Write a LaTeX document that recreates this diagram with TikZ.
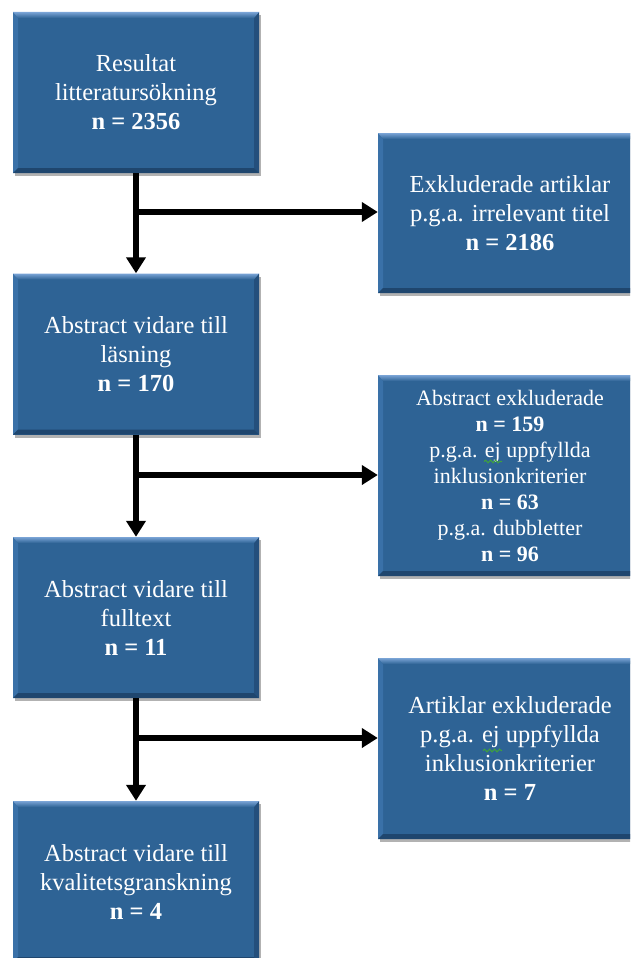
\documentclass[tikz,border=0pt]{standalone}
\usepackage{fontspec}
\setmainfont{Liberation Serif}
\usetikzlibrary{arrows.meta,shadows,decorations.pathmorphing}
\definecolor{boxblue}{HTML}{2E6395}
\definecolor{bevtop}{HTML}{7AA4D6}
\definecolor{bevleft}{HTML}{3A71A8}
\definecolor{bevright}{HTML}{244F7C}
\definecolor{bevbot}{HTML}{1F466E}
\definecolor{squig}{HTML}{3FA03F}
\tikzset{
  bevelbox/.style={
    fill=boxblue, text=white, align=center, inner sep=0pt,
    minimum width=246pt, minimum height=161pt,
    font=\fontsize{24.5}{29}\selectfont,
    drop shadow={shadow xshift=1.5pt, shadow yshift=-3pt, opacity=0.3, fill=black},
    path picture={
      \coordinate (pnw) at (path picture bounding box.north west);
      \coordinate (pne) at (path picture bounding box.north east);
      \coordinate (psw) at (path picture bounding box.south west);
      \coordinate (pse) at (path picture bounding box.south east);
      \fill[bevleft] (pnw) -- ([shift={(5pt,-6pt)}]pnw) -- ([shift={(5pt,5pt)}]psw) -- (psw) -- cycle;
      \fill[bevright] (pne) -- (pse) -- ([shift={(-5pt,5pt)}]pse) -- ([shift={(-5pt,-6pt)}]pne) -- cycle;
      \fill[bevbot] (psw) -- (pse) -- ([shift={(-5pt,5pt)}]pse) -- ([shift={(5pt,5pt)}]psw) -- cycle;
      \shade[top color=bevtop, bottom color=boxblue] (pnw) -- (pne) -- ([shift={(-5pt,-6pt)}]pne) -- ([shift={(5pt,-6pt)}]pnw) -- cycle;
    }},
  rightbox/.style={bevelbox, minimum width=264pt},
  smalltext/.style={font=\fontsize{22}{26}\selectfont},
  flow/.style={line width=5.5pt, draw=black, -{Triangle[width=19pt,length=16pt]}},
  squiggle/.style={draw=squig, line width=1.1pt, decorate, decoration={snake, amplitude=1.3pt, segment length=5pt}},
}
\begin{document}
\begin{tikzpicture}[x=1pt,y=-1pt]
  \clip (0,0) rectangle (630,958);
  \fill[white] (0,0) rectangle (630,958);

  \node[bevelbox] (l1) at (136,92.5) {Resultat\\litteratursökning\\\textbf{n = 2356}};
  \node[bevelbox] (l2) at (136,354) {Abstract vidare till\\läsning\\\textbf{n = 170}};
  \node[bevelbox] (l3) at (136,617.5) {Abstract vidare till\\fulltext\\\textbf{n = 11}};
  \node[bevelbox] (l4) at (136,881.5) {Abstract vidare till\\kvalitetsgranskning\\\textbf{n = 4}};

  \node[rightbox, minimum height=160pt] (r1) at (510,213) {Exkluderade artiklar\\p.g.a. irrelevant titel\\\textbf{n = 2186}};
  \node[rightbox, smalltext, minimum height=201pt] (r2) at (510,475.5) {Abstract exkluderade\\\textbf{n = 159}\\p.g.a. ej uppfyllda\\inklusionkriterier\\\textbf{n = 63}\\p.g.a. dubbletter\\\textbf{n = 96}};
  \node[rightbox, minimum height=181pt] (r3) at (510,748.5) {Artiklar exkluderade\\p.g.a. ej uppfyllda\\inklusionkriterier\\\textbf{n = 7}};

  \draw[squiggle] (484,461.5) -- (502,461.5);
  \draw[squiggle] (483,750.5) -- (502,750.5);

  \coordinate (j1) at (136,212);
  \coordinate (j2) at (136,475);
  \coordinate (j3) at (136,738);

  \draw[flow] (l1.south) -- (l2.north);
  \draw[flow] (l2.south) -- (l3.north);
  \draw[flow] (l3.south) -- (l4.north);
  \draw[flow] (j1) -- (j1 -| r1.west);
  \draw[flow] (j2) -- (j2 -| r2.west);
  \draw[flow] (j3) -- (j3 -| r3.west);
\end{tikzpicture}
\end{document}
